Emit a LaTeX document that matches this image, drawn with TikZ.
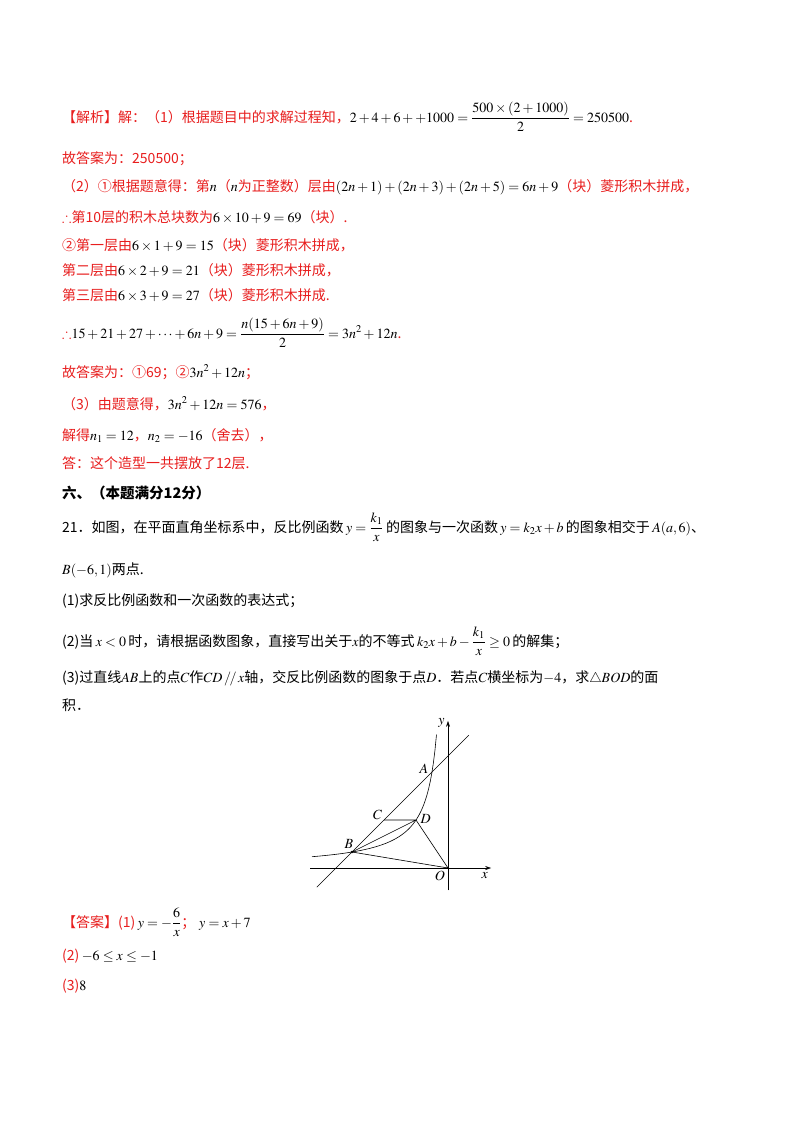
\documentclass[tikz,border=0pt]{standalone}
\usepackage{fontspec}
\usepackage{amsmath,amssymb}
\usepackage{mathptmx}
\setmainfont{Liberation Serif}
\newfontfamily\cjk{Noto Sans CJK SC}
\definecolor{rd}{RGB}{232,30,30}
\newcommand{\mm}[1]{{\color{black}$#1$}}
\tikzset{ln/.style={anchor=base west,inner sep=0pt,font=\fontsize{14}{16}\selectfont\cjk},
 red/.style={text=rd}, ax/.style={-{Stealth[length=6pt,width=4pt]},line width=0.6pt}}
\usetikzlibrary{arrows.meta}
\begin{document}
\begin{tikzpicture}[x=1pt,y=-1pt]
\useasboundingbox[fill=white] (0,0) rectangle (800,1132);
\node[ln,red] (l1) at (62,122) {【解析】解：（1）根据题目中的求解过程知，\mm{2+4+6++1000=\dfrac{500\times(2+1000)}{2}=250500}.};
\node[ln,red] (l2) at (62,163) {故答案为：250500；};
\node[ln,red] (l3) at (62,191) {（2）①根据题意得：第\mm{n}（\mm{n}为正整数）层由\mm{(2n+1)+(2n+3)+(2n+5)=6n+9}（块）菱形积木拼成，};
\node[ln,red] (l4) at (62,222) {$\therefore$第10层的积木总块数为\mm{6\times10+9=69}（块）.};
\node[ln,red] (l5) at (62,250) {②第一层由\mm{6\times1+9=15}（块）菱形积木拼成，};
\node[ln,red] (l6) at (62,275) {第二层由\mm{6\times2+9=21}（块）菱形积木拼成，};
\node[ln,red] (l7) at (62,300) {第三层由\mm{6\times3+9=27}（块）菱形积木拼成.};
\node[ln,red] (l8) at (62,338) {$\therefore$\mm{15+21+27+\cdots+6n+9=\dfrac{n(15+6n+9)}{2}=3n^2+12n}.};
\node[ln,red] (l9) at (62,377) {故答案为：①69；②\mm{3n^2+12n}；};
\node[ln,red] (l10) at (62,409) {（3）由题意得，\mm{3n^2+12n=576}，};
\node[ln,red] (l11) at (62,440) {解得\mm{n_1=12}，\mm{n_2=-16}（舍去），};
\node[ln,red] (l12) at (62,468) {答：这个造型一共摆放了12层.};
\node[ln,font=\fontsize{14.5}{16}\selectfont\cjk\bfseries] (h) at (62,498) {六、（本题满分12分）};
\node[ln] (q1) at (62,532) {21．如图，在平面直角坐标系中，反比例函数\,$y=\dfrac{k_1}{x}$\,的图象与一次函数\,$y=k_2x+b$\,的图象相交于\,$A(a,6)$、};
\node[ln] (q2) at (62,574) {$B(-6,1)$两点.};
\node[ln] (q3) at (62,605) {(1)求反比例函数和一次函数的表达式；};
\node[ln] (q4) at (62,646) {(2)当\,$x<0$\,时，请根据函数图象，直接写出关于$x$的不等式\,$k_2x+b-\dfrac{k_1}{x}\geq0$\,的解集；};
\node[ln] (q5) at (62,682) {(3)过直线$AB$上的点$C$作$CD\,/\!/\,x$轴，交反比例函数的图象于点$D$．若点$C$横坐标为$-4$，求$\triangle BOD$的面};
\node[ln] (q6) at (62,710) {积．};
\begin{scope}[shift={(448,868)},x=16pt,y=16pt,line width=0.6pt]
\coordinate (O) at (0,0);
\coordinate (A) at (-1,6);
\coordinate (B) at (-6,1);
\coordinate (C) at (-4,3);
\coordinate (D) at (-2,3);
\coordinate (xs) at (-8.6,0); \coordinate (xe) at (2.7,0);
\coordinate (ys) at (0,-1.4); \coordinate (ye) at (0,9.2);
\coordinate (ls) at (-8.2,-1.2); \coordinate (le) at (1.3,8.3);
\draw[ax] (xs) -- (xe);
\draw[ax] (ys) -- (ye);
\draw (ls) -- (le);
\draw[domain=-8.5:-0.72,samples=80] plot (\x,{-6/\x});
\draw (C) -- (D) -- (O) -- (B) -- (D);
\fill (B) circle (1.3pt);
\node[font=\fontsize{14}{16}\selectfont] at (-0.4,9.05) {$y$};
\node[font=\fontsize{14}{16}\selectfont] at (2.3,-0.45) {$x$};
\node[font=\fontsize{14}{16}\selectfont] at (-0.5,-0.5) {$O$};
\node[font=\fontsize{14}{16}\selectfont] at (-1.5,6.2) {$A$};
\node[font=\fontsize{14}{16}\selectfont] at (-6.2,1.5) {$B$};
\node[font=\fontsize{14}{16}\selectfont] at (-4.4,3.3) {$C$};
\node[font=\fontsize{14}{16}\selectfont] at (-1.4,3.05) {$D$};
\end{scope}
\node[ln,red] (a1) at (62,927) {【答案】(1)\,\mm{y=-\dfrac{6}{x}}；\;\mm{y=x+7}};
\node[ln,red] (a2) at (62,960) {(2)\,\mm{-6\le x\le-1}};
\node[ln,red] (a3) at (62,990) {(3)\mm{8}};
\end{tikzpicture}
\end{document}
